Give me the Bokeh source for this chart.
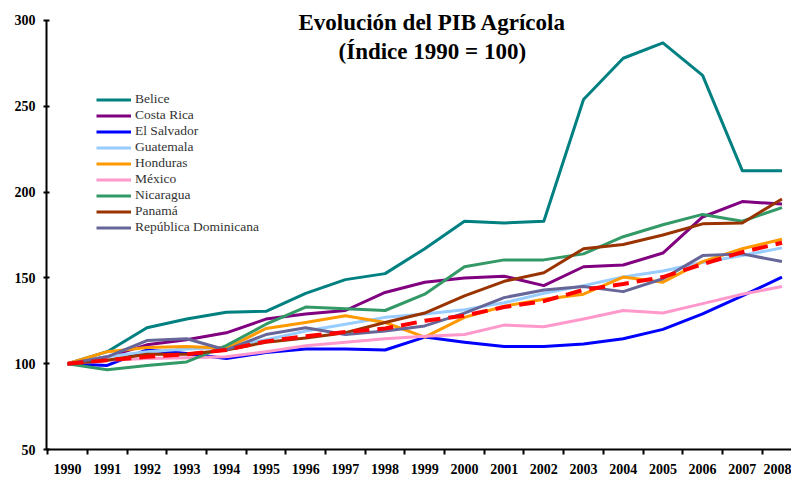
from bokeh.plotting import figure
from bokeh.models import Range1d, FixedTicker, Label, Legend, LegendItem
from bokeh.embed import file_html
from bokeh.resources import INLINE

years = list(range(1990, 2009))
year_labels = [str(y) for y in years]

belice = [100, 107, 121, 126, 130, 130.5, 141, 149, 152.5, 167, 183, 182, 183, 254, 278, 287, 268, 212.5, 212.5]
costa_rica = [100, 104, 111, 114, 118, 126, 129, 131, 141.5, 147.5, 150, 151, 145.5, 156.5, 157.5, 164.5, 185.5, 194.5, 193]
el_salvador = [100, 99, 108, 106, 103, 106.5, 108.5, 108.5, 108, 115.5, 112.5, 110, 110, 111.5, 114.5, 120, 129, 139.5, 150.5]
guatemala = [100, 104, 107, 108.5, 109.5, 114, 119, 123, 127, 129, 131.5, 135.5, 141, 145.5, 150.5, 154, 159, 163, 167.5]
honduras = [100, 107, 109.5, 110, 109, 120.5, 124, 128, 124, 115.5, 127, 133.5, 137.5, 140.5, 150.5, 147.5, 159.5, 167, 172.5]
mexico = [100, 102, 103, 103.5, 104, 107, 110.5, 112.5, 114.5, 116, 117, 122.5, 121.5, 126, 131, 129.5, 135, 140.5, 145]
nicaragua = [100, 96.5, 99, 101, 110.5, 123, 133, 132, 131, 140.5, 156.5, 160.5, 160.5, 164, 174, 181, 187, 183, 191]
panama = [100, 102, 105.5, 105.5, 108, 112.5, 115, 118, 124, 129.5, 139.5, 148, 153, 167, 169.5, 175, 181.5, 182, 196]
rep_dominicana = [100, 104, 113.5, 114.5, 108, 117, 121, 117, 119, 122, 129.5, 138.5, 143, 145, 142, 149.5, 163, 164, 159.5]
promedio = [100, 102, 104, 105.5, 108, 113, 116, 118.5, 120.5, 125, 128, 133, 136.5, 143, 146.5, 150.5, 158, 165, 170.5]

series_names = ["Belice", "Costa Rica", "El Salvador", "Guatemala", "Honduras",
                "México", "Nicaragua", "Panamá", "República Dominicana"]
series_values = [belice, costa_rica, el_salvador, guatemala, honduras,
                 mexico, nicaragua, panama, rep_dominicana]
series_colors = ["#008080", "#800080", "#0000FF", "#99CCFF", "#FF9900",
                 "#FF99CC", "#339966", "#993300", "#666699"]

y_ticks = [50, 100, 150, 200, 250, 300]

title_line1 = "Evolución del PIB Agrícola"
title_line2 = "(Índice 1990 = 100)"

p = figure(width=791, height=477, output_backend="svg", toolbar_location=None,
           x_range=Range1d(1989.47, 2008.24), y_range=Range1d(50, 308.74),
           min_border_left=46, min_border_right=0, min_border_top=5,
           min_border_bottom=28)
p.outline_line_color = None
p.xgrid.visible = False
p.ygrid.visible = False
p.background_fill_color = "white"
p.border_fill_color = "white"

items = []
for name, vals, col in zip(series_names, series_values, series_colors):
    r = p.line(years, vals, line_color=col, line_width=3, line_join="round")
    items.append(LegendItem(label=name, renderers=[r]))

p.line(years, promedio, line_color="#FF0000", line_width=4, line_dash="16 8")

legend = Legend(items=items, location=(50, 214), glyph_width=35, glyph_height=15,
                label_height=15, spacing=0, padding=5, margin=0, label_standoff=4,
                label_text_font="Liberation Serif", label_text_font_size="13.5px",
                label_text_color="#333333", background_fill_alpha=0,
                border_line_color=None)
p.add_layout(legend, "center")

# axes
p.xaxis.ticker = FixedTicker(ticks=years, minor_ticks=[y + 0.5 for y in years[:-1]] + [1989.5])
p.xaxis.major_label_overrides = {y: s for y, s in zip(years, year_labels)}
p.xaxis.major_tick_out = 0
p.xaxis.major_tick_in = 0
p.xaxis.minor_tick_out = 5
p.xaxis.minor_tick_in = 0
p.xaxis.minor_tick_line_color = "black"
p.xaxis.minor_tick_line_width = 2
p.xaxis.major_label_standoff = 9
p.yaxis.ticker = FixedTicker(ticks=y_ticks, minor_ticks=[])
p.yaxis.bounds = (50, 300)
p.yaxis.major_tick_in = 3
p.yaxis.major_tick_out = 3
p.yaxis.major_label_standoff = 8
for ax in (p.xaxis, p.yaxis):
    ax.axis_line_color = "black"
    ax.axis_line_width = 2
    ax.major_tick_line_color = "black"
    ax.major_tick_line_width = 2
    ax.major_label_text_font = "Liberation Serif"
    ax.major_label_text_font_style = "bold"
    ax.major_label_text_font_size = "14px"
    ax.major_label_text_color = "black"

p.add_layout(Label(x=1999.19, y=298.6, text=title_line1, text_align="center",
                   text_baseline="middle", text_font="Liberation Serif",
                   text_font_style="bold", text_font_size="23px", text_color="black"))
p.add_layout(Label(x=1999.19, y=281.7, text=title_line2, text_align="center",
                   text_baseline="middle", text_font="Liberation Serif",
                   text_font_style="bold", text_font_size="23px", text_color="black"))

open("out.html", "w").write(file_html(p, INLINE))
